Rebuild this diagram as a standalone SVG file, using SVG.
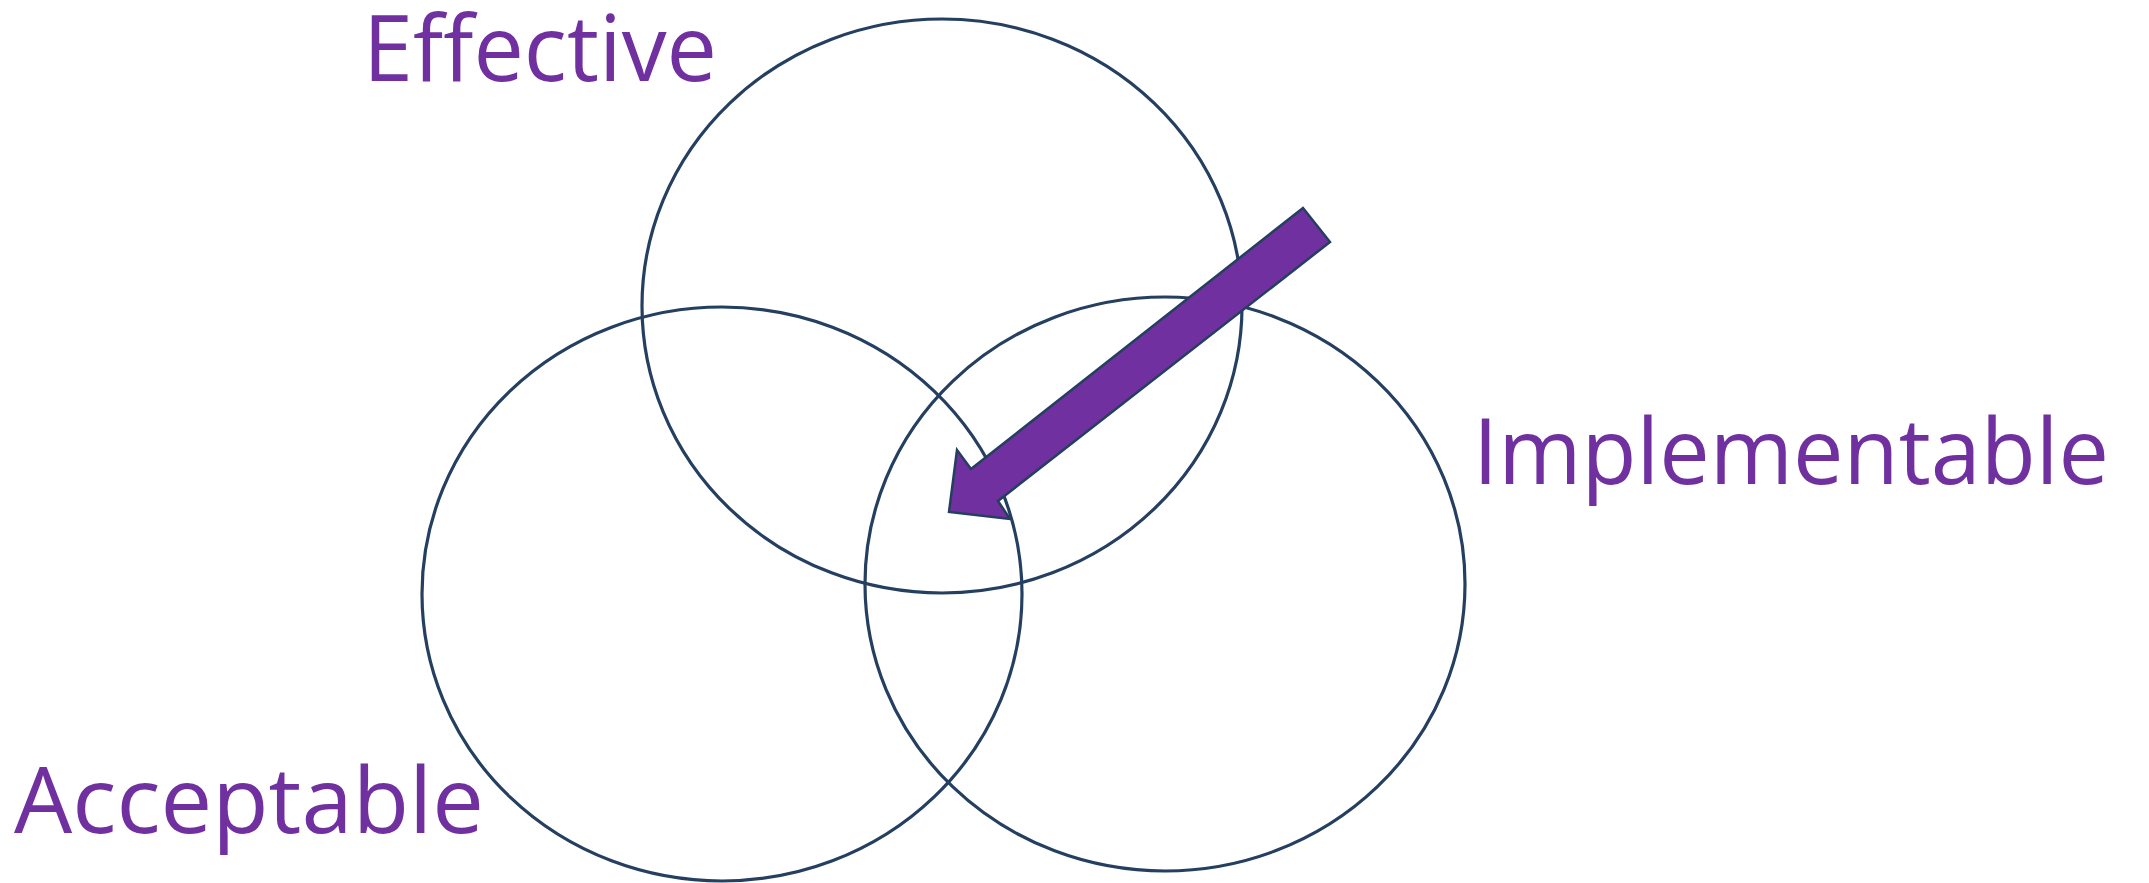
<svg xmlns="http://www.w3.org/2000/svg" width="2149" height="883" viewBox="0 0 2149 883">
<style>
.ring{fill:none;stroke:#243F60;stroke-width:3.2}
.lbl{font-family:"Open Sans","Liberation Sans",sans-serif;font-size:92px;fill:#7030A0}
.arrow{fill:#7030A0;stroke:#243F60;stroke-width:2.5;stroke-linejoin:miter}
</style>
<rect width="2149" height="883" fill="#ffffff"/>
<g id="effective">
<ellipse class="ring" cx="942" cy="306" rx="300" ry="287"/>
<text class="lbl" x="363" y="81" textLength="354" lengthAdjust="spacingAndGlyphs">Effective</text>
</g>
<g id="acceptable">
<ellipse class="ring" cx="722" cy="594" rx="300" ry="287"/>
<text class="lbl" x="14" y="833" textLength="470" lengthAdjust="spacingAndGlyphs">Acceptable</text>
</g>
<g id="implementable">
<ellipse class="ring" cx="1165" cy="584" rx="300" ry="287"/>
<text class="lbl" x="1473" y="484" textLength="636" lengthAdjust="spacingAndGlyphs">Implementable</text>
</g>
<g id="connectors">
<polygon class="arrow" points="1303,208 1330,242 998,501 1010,519 949,512 957,450 971,469"/>
</g>
</svg>
